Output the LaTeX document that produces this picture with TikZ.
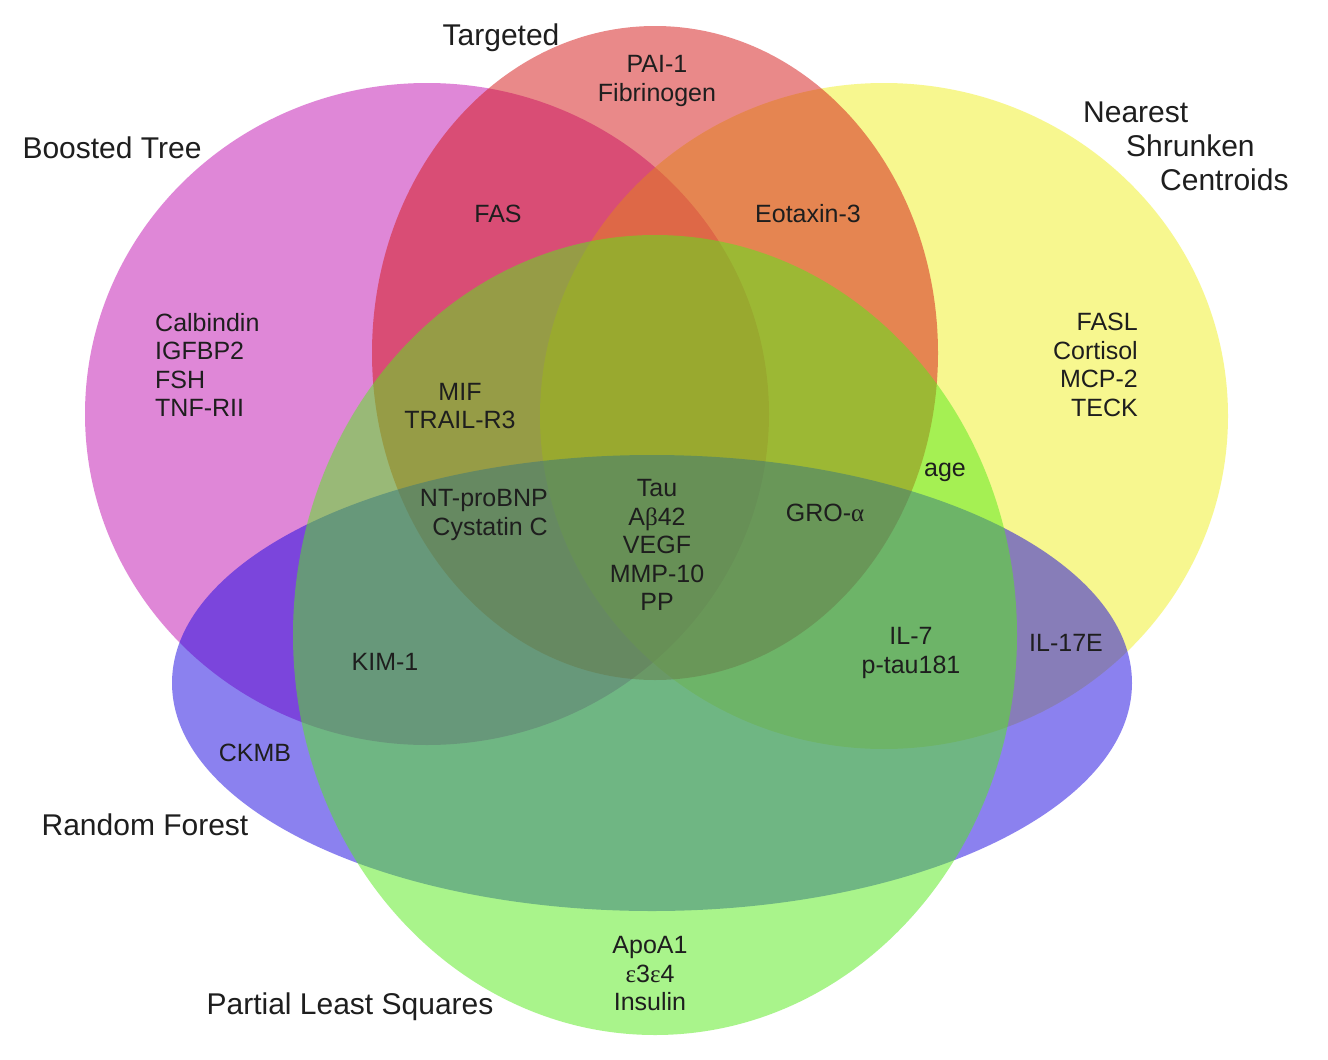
\documentclass[tikz,border=0pt]{standalone}
\usepackage{fontspec}
\setmainfont{Liberation Sans}
\newfontfamily\grk{Liberation Serif}
\definecolor{cMag}{RGB}{193,17,177}
\definecolor{cYel}{RGB}{241,241,33}
\definecolor{cRed}{RGB}{213,21,21}
\definecolor{cBlu}{RGB}{25,5,225}
\definecolor{cGrn}{RGB}{85,235,25}
\definecolor{txt}{RGB}{30,30,30}
\begin{document}
\begin{tikzpicture}[x=1pt,y=-1pt,
  setfill/.style={fill=#1,fill opacity=0.5},
  title/.style={text=txt,font=\fontsize{30}{34}\selectfont,inner sep=0pt},
  item/.style={text=txt,font=\fontsize{25}{28.5}\selectfont,inner sep=0pt,align=center}]
\useasboundingbox (0,0) rectangle (1328,1060);
\fill[white] (0,0) rectangle (1328,1060);
% sets
\fill[setfill=cMag] (427,414) ellipse [x radius=342,y radius=331];
\fill[setfill=cYel] (884,416) ellipse [x radius=344,y radius=333];
\fill[setfill=cRed] (655,353) ellipse [x radius=283,y radius=327];
\fill[setfill=cBlu] (652,683) ellipse [x radius=480,y radius=228];
\fill[setfill=cGrn] (655,635) ellipse [x radius=362,y radius=400];
% titles
\node[title] (tTarg) at (501,38) {Targeted};
\node[title] (tBT) at (112,148) {Boosted Tree};
\node[title,anchor=west,align=left] (tNSC) at (1083,146) {Nearest\\\hspace*{43pt}Shrunken\\\hspace*{77pt}Centroids};
\node[title] (tRF) at (145,825) {Random Forest};
\node[title] (tPLS) at (350,1007) {Partial Least Squares};
% items
\node[item] (iPAI) at (657,81) {PAI-1\\Fibrinogen};
\node[item] (iFAS) at (498,214) {FAS};
\node[item] (iEot) at (808,214) {Eotaxin-3};
\node[item,anchor=west,align=left] (iCal) at (155,365) {Calbindin\\IGFBP2\\FSH\\TNF-RII};
\node[item,anchor=east,align=right] (iFASL) at (1138,365) {FASL\\Cortisol\\MCP-2\\TECK};
\node[item] (iMIF) at (460,406) {MIF\\TRAIL-R3};
\node[item,anchor=east,align=right] (iNT) at (548,515) {NT-proBNP\\Cystatin C};
\node[item] (iTau) at (657,545) {Tau\\A{\grk β}42\\VEGF\\MMP-10\\PP};
\node[item] (iGRO) at (825,513) {GRO-{\grk α}};
\node[item] (iAge) at (945,472) {age};
\node[item] (iKIM) at (385,662) {KIM-1};
\node[item] (iIL7) at (911,653) {IL-7\\p-tau181};
\node[item] (iIL17) at (1066,643) {IL-17E};
\node[item] (iCK) at (255,753) {CKMB};
\node[item] (iApo) at (650,974) {ApoA1\\{\grk ε}3{\grk ε}4\\Insulin};
\end{tikzpicture}
\end{document}
